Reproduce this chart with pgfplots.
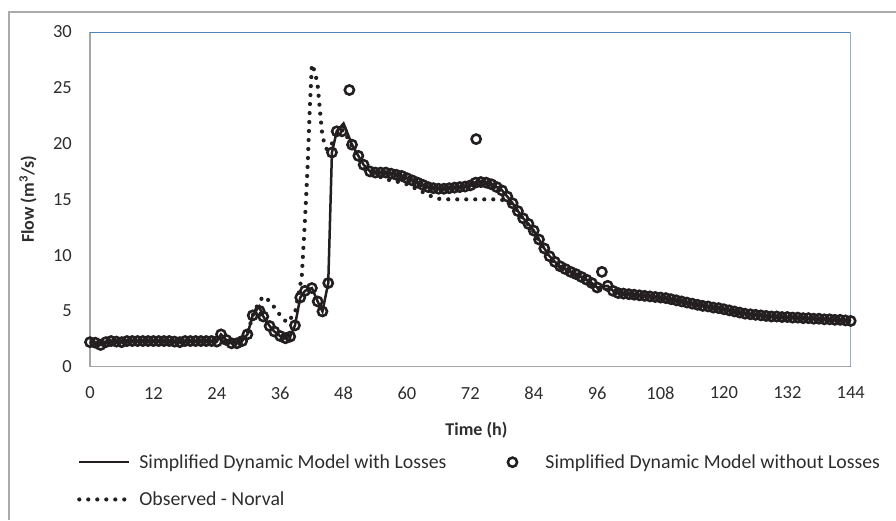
\documentclass[border=0pt]{standalone}
\usepackage{fontspec}
\setmainfont{Carlito}
\usepackage{pgfplots}
\pgfplotsset{compat=1.18}
\definecolor{ink}{RGB}{35,31,32}
\definecolor{labelgray}{RGB}{45,45,45}
\definecolor{frameblue}{RGB}{79,129,189}
\definecolor{axisgray}{RGB}{166,166,166}
\definecolor{bordergray}{RGB}{170,170,170}

\begin{document}
\begin{tikzpicture}
\begin{axis}[
    scale only axis,
    width=760.7pt, height=334.7pt,
    xmin=0, xmax=144, ymin=0, ymax=30,
    xtick={0,12,...,144}, ytick={0,5,...,30},
    axis lines=left,
    axis line style={-, axisgray, line width=1.3pt},
    major tick length=0pt,
    /pgf/number format/assume math mode=true,
    tick label style={font=\fontsize{18.5}{22}\selectfont, text=labelgray},
    xticklabel style={anchor=center, inner sep=0pt, yshift=-26.3pt},
    yticklabel style={anchor=east, inner sep=0pt, xshift=-18pt},
    xlabel={\textbf{Time (h)}},
    ylabel={\textbf{Flow (m\textsuperscript{3}/s)}},
    label style={font=\fontsize{18}{22}\selectfont, text=labelgray},
    xlabel style={at={(axis description cs:0.508,-0.189)}, anchor=center},
    ylabel style={at={(axis description cs:-0.0815,0.5)}, anchor=center},
    legend columns=2,
    legend cell align=left,
    legend image code/.code={
        \path[draw=none, fill=none] (0pt,0pt) -- (50pt,0pt);
        \draw[mark repeat=2, mark phase=2, #1] plot coordinates {(0pt,0pt) (25pt,0pt) (50pt,0pt)};
    },
    legend style={
        at={(axis description cs:-0.0171,-0.256)}, anchor=north west,
        draw=none, fill=none, inner sep=0pt,
        font=\fontsize{19.8}{23}\selectfont, text=labelgray,
        column sep=6pt, row sep=18pt,
        /tikz/column 2/.style={column sep=39pt},
    },
]
% simplified dynamic model with losses
\addplot[ink, line width=2.5pt, mark=none] coordinates {
(0,2.2)(1,2.15)(2,1.95)(3,2.2)(4,2.3)(5,2.25)(6,2.2)(7,2.3)(8,2.3)(9,2.3)(10,2.3)
(11,2.3)(12,2.3)(13,2.3)(14,2.3)(15,2.3)(16,2.25)(17,2.2)(18,2.3)(19,2.3)(20,2.3)
(21,2.3)(22,2.3)(23,2.3)(24,2.25)(24.8,2.9)(25.8,2.4)(26.8,2.1)(27.8,2.1)(28.8,2.3)
(29.8,2.9)(30.8,4.6)(32,5.4)(32.8,4.5)(34,3.65)(34.9,3.15)(36,2.75)(37,2.55)(37.9,2.7)
(38.8,3.7)(39.8,6.2)(40.7,6.8)(42,7.05)(43.1,5.85)(44,4.95)(45.1,7.5)(45.8,19.2)
(46.7,21.1)(48,21.8)(49.6,19.9)(50.8,18.9)(51.8,18.1)(53,17.5)(54,17.4)(55,17.4)
(56,17.4)(57,17.3)(58,17.2)(59,17.1)(60,16.9)(61,16.7)(62,16.5)(63,16.3)(64,16.1)
(65,16.0)(66,15.95)(67,15.95)(68,16.0)(69,16.05)(70,16.1)(71,16.15)(72,16.25)(73,16.5)
(74,16.55)(75,16.5)(76,16.35)(77,16.1)(78,15.8)(79,15.25)(80,14.65)(81,13.95)(82,13.3)
(83,12.8)(84,12.2)(85,11.4)(86,10.6)(87,9.9)(88,9.4)(89,9.0)(90,8.75)(91,8.5)(92,8.3)
(93,8.05)(94,7.8)(95,7.5)(96,7.1)(98,7.25)(99,6.8)(100,6.6)(101,6.55)(102,6.5)
(103,6.45)(104,6.4)(105,6.35)(106,6.3)(107,6.25)(108,6.2)(109,6.15)(110,6.05)
(111,5.95)(112,5.85)(113,5.75)(114,5.65)(115,5.55)(116,5.45)(117,5.4)(118,5.3)
(119,5.25)(120,5.15)(121,5.05)(122,4.95)(123,4.85)(124,4.75)(125,4.7)(126,4.65)
(127,4.6)(128,4.55)(129,4.5)(130,4.5)(131,4.45)(132,4.45)(133,4.4)(134,4.4)(135,4.35)
(136,4.35)(137,4.3)(138,4.3)(139,4.25)(140,4.25)(141,4.2)(142,4.2)(143,4.15)(144,4.1)
};
\addlegendentry{Simplified Dynamic Model with Losses}

% simplified dynamic model without losses
\addplot[ink, only marks, mark=o, mark size=4.6pt, line width=2.6pt] coordinates {
(0,2.2)(1,2.15)(2,1.95)(3,2.2)(4,2.3)(5,2.25)(6,2.2)(7,2.3)(8,2.3)(9,2.3)(10,2.3)
(11,2.3)(12,2.3)(13,2.3)(14,2.3)(15,2.3)(16,2.25)(17,2.2)(18,2.3)(19,2.3)(20,2.3)
(21,2.3)(22,2.3)(23,2.3)(24,2.25)(24.8,2.9)(25.8,2.4)(26.8,2.1)(27.8,2.1)(28.8,2.3)
(29.8,2.9)(30.8,4.6)(32.1,5.0)(32.8,4.5)(34,3.65)(34.9,3.15)(36,2.75)(37,2.55)(37.9,2.7)
(38.8,3.7)(39.8,6.2)(40.7,6.8)(42,7.05)(43.1,5.85)(44,4.95)(45.1,7.5)(45.8,19.2)
(46.7,21.1)(47.7,21.1)(49.1,24.8)(49.6,19.9)(50.8,18.9)(51.8,18.1)(53,17.5)(54,17.4)
(55,17.4)(56,17.4)(57,17.3)(58,17.2)(59,17.1)(60,16.9)(61,16.7)(62,16.5)(63,16.3)
(64,16.1)(65,16.0)(66,15.95)(67,15.95)(68,16.0)(69,16.05)(70,16.1)(71,16.15)(72,16.25)
(73,16.5)(73.1,20.4)(74,16.55)(75,16.5)(76,16.35)(77,16.1)(78,15.8)(79,15.25)(80,14.65)
(81,13.95)(82,13.3)(83,12.8)(84,12.2)(85,11.4)(86,10.6)(87,9.9)(88,9.4)(89,9.0)
(90,8.75)(91,8.5)(92,8.3)(93,8.05)(94,7.8)(95,7.5)(96,7.1)(96.9,8.5)(98,7.25)(99,6.8)
(100,6.6)(101,6.55)(102,6.5)(103,6.45)(104,6.4)(105,6.35)(106,6.3)(107,6.25)(108,6.2)
(109,6.15)(110,6.05)(111,5.95)(112,5.85)(113,5.75)(114,5.65)(115,5.55)(116,5.45)
(117,5.4)(118,5.3)(119,5.25)(120,5.15)(121,5.05)(122,4.95)(123,4.85)(124,4.75)
(125,4.7)(126,4.65)(127,4.6)(128,4.55)(129,4.5)(130,4.5)(131,4.45)(132,4.45)(133,4.4)
(134,4.4)(135,4.35)(136,4.35)(137,4.3)(138,4.3)(139,4.25)(140,4.25)(141,4.2)(142,4.2)
(143,4.15)(144,4.1)
};
\addlegendentry{Simplified Dynamic Model without Losses}

% observed flow at Norval
\addplot[ink, line width=4.2pt, line cap=round, dash pattern=on 0pt off 9pt, mark=none] coordinates {
(0,2.3)(6,2.3)(12,2.3)(18,2.3)(24,2.3)(28,2.3)(29.8,2.9)(30.8,4.6)(32,5.8)(32.8,6.3)
(34.1,5.85)(35,5.25)(36.1,4.55)(37.3,3.95)(38.8,4.8)(39.8,7.3)(40.1,8.2)(40.7,13.2)
(41.2,18)(41.6,23.1)(42,27.1)(42.6,26.4)(43.1,25.2)(43.6,22.6)(43.9,21.1)(44.3,20.1)
(44.8,19.5)(45.5,19.6)(46.1,20.4)(47,21.1)(48,21.2)(49,20.3)(50,19.4)(51,18.6)
(52,17.8)(53,17.4)(54,17.2)(55,17.0)(56,16.8)(57,16.7)(58,16.6)(59,16.5)(60,16.35)
(61,16.1)(62,15.9)(63,15.65)(64,15.4)(65,15.2)(66,15.05)(68,15.0)(70,15.0)(72,15.0)
(74,15.0)(76,15.0)(77,15.0)(78,14.95)(79,14.85)(80,14.5)(81,13.9)(82,13.25)(83,12.7)
(84,12.1)(85,11.3)(86,10.5)(87,9.8)(88,9.3)(89,8.9)(90,8.65)(92,8.2)(94,7.7)(96,7.0)
(98,6.9)(100,6.55)(104,6.3)(108,6.1)(112,5.8)(116,5.4)(120,5.1)(124,4.7)(128,4.5)
(132,4.4)(136,4.3)(140,4.2)(144,4.1)
};
\addlegendentry{Observed - Norval}

\draw[frameblue, line width=1.3pt] (rel axis cs:0,1) -- (rel axis cs:1,1) -- (rel axis cs:1,0);
\end{axis}
% chart area border (top and left edges)
\draw[bordergray, line width=1.2pt] (806pt,354.7pt) -- (-81pt,354.7pt) -- (-81pt,-153.3pt);
\pgfresetboundingbox
\path[use as bounding box] (-90pt,-153.3pt) rectangle (806pt,366.7pt);
\end{tikzpicture}
\end{document}
